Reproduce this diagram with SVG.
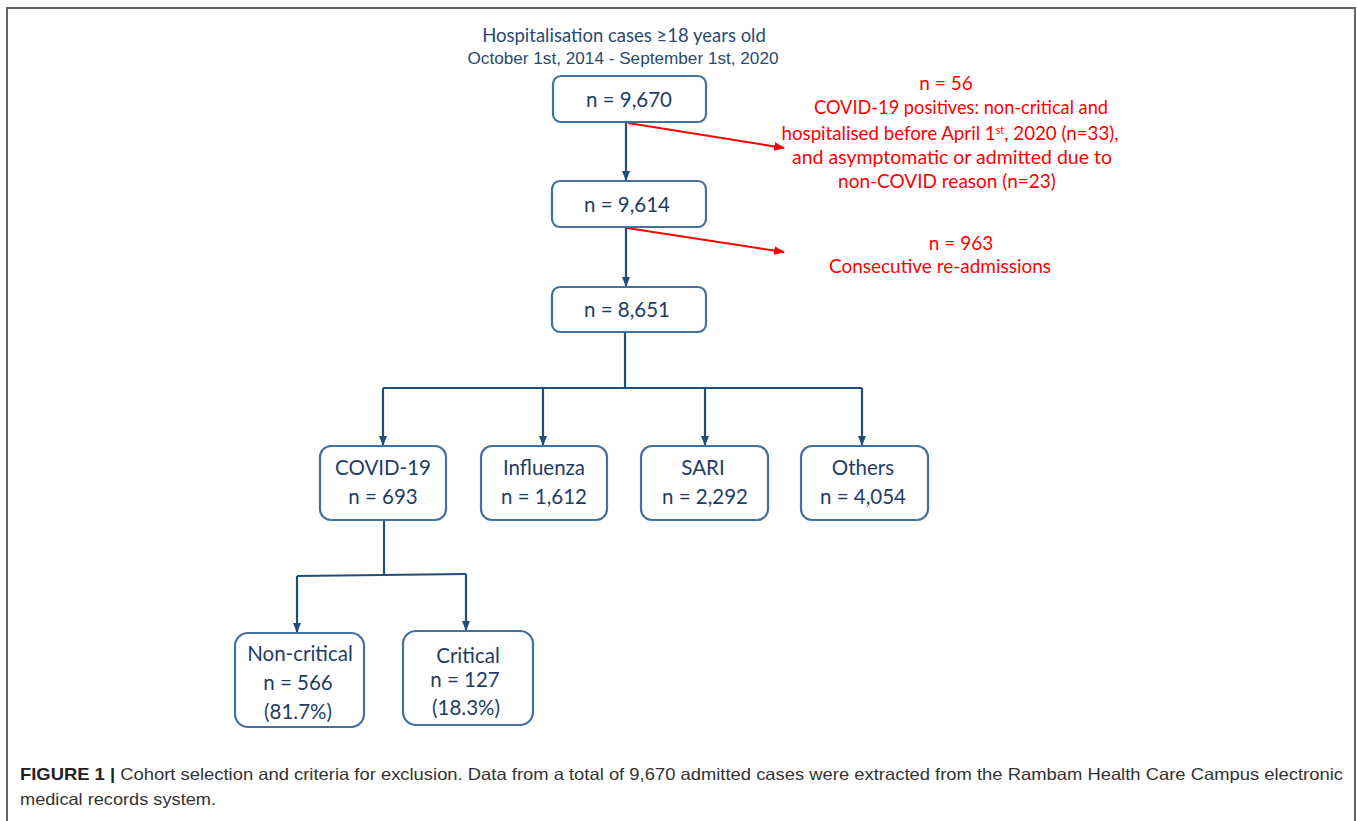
<svg xmlns="http://www.w3.org/2000/svg" width="1357" height="821" viewBox="0 0 1357 821">
<defs>
<marker id="ab" viewBox="0 0 10 10" refX="9" refY="5" markerWidth="10" markerHeight="10" orient="auto" markerUnits="userSpaceOnUse">
<path d="M0,1 L10,5 L0,9 z" fill="#1f4e79"/>
</marker>
<marker id="ar" viewBox="0 0 10 10" refX="9" refY="5" markerWidth="11" markerHeight="11" orient="auto" markerUnits="userSpaceOnUse">
<path d="M0,1 L10,5 L0,9 z" fill="#ff0000"/>
</marker>
<style>
.box{fill:#ffffff;stroke:#41719c;stroke-width:2.2}
.t{font-family:Lato,"Open Sans","Liberation Sans",sans-serif;font-size:20.5px;fill:#1f3d63;text-anchor:middle}
.r{font-family:Lato,"Open Sans","Liberation Sans",sans-serif;font-size:19px;fill:#ff0000;text-anchor:middle}
.h{font-family:Lato,"Liberation Sans",sans-serif;font-size:18.5px;fill:#2a4a70;text-anchor:middle}
.cap{font-family:"Liberation Sans",Arial,sans-serif;font-size:16.5px;fill:#333333}
.bl{fill:none;stroke:#1f4e79;stroke-width:2.2}
.rl{fill:none;stroke:#ff0000;stroke-width:2}
</style>
</defs>
<rect width="1357" height="821" fill="#ffffff"/>
<path d="M7,821 V8 H1355 V821" fill="none" stroke="#666666" stroke-width="2"/>

<g id="title">
<text class="h" x="624" y="42">Hospitalisation cases ≥18 years old</text>
<text class="h" x="623" y="64" style="font-family:'Liberation Sans',Arial,sans-serif;font-size:16px" textLength="311" lengthAdjust="spacingAndGlyphs">October 1st, 2014 - September 1st, 2020</text>
</g>

<g id="connectors">
<path class="bl" d="M626,122 V180" marker-end="url(#ab)"/>
<path class="bl" d="M626,227 V286" marker-end="url(#ab)"/>
<path class="bl" d="M625,332 V388 M383,388 H862"/>
<path class="bl" d="M383,388 V445" marker-end="url(#ab)"/>
<path class="bl" d="M543,388 V445" marker-end="url(#ab)"/>
<path class="bl" d="M705,388 V445" marker-end="url(#ab)"/>
<path class="bl" d="M862,388 V445" marker-end="url(#ab)"/>
<path class="bl" d="M384,520 V575 M297,576 L466,574"/>
<path class="bl" d="M297,576 V632" marker-end="url(#ab)"/>
<path class="bl" d="M466,574 V630" marker-end="url(#ab)"/>
<path class="rl" d="M628,123 L784,148" marker-end="url(#ar)"/>
<path class="rl" d="M627,228 L784,252" marker-end="url(#ar)"/>
</g>

<g id="n1">
<rect class="box" x="553" y="76" width="153" height="46" rx="8"/>
<text class="t" x="629" y="107">n = 9,670</text>
</g>
<g id="n2">
<rect class="box" x="552" y="181" width="154" height="46" rx="8"/>
<text class="t" x="627" y="212">n = 9,614</text>
</g>
<g id="n3">
<rect class="box" x="552" y="287" width="154" height="45" rx="8"/>
<text class="t" x="627" y="317">n = 8,651</text>
</g>

<g id="excl1">
<text class="r" x="946" y="90">n = 56</text>
<text class="r" x="961" y="114" textLength="294" lengthAdjust="spacingAndGlyphs">COVID-19 positives: non-critical and</text>
<text class="r" x="950" y="140" textLength="337" lengthAdjust="spacingAndGlyphs">hospitalised before April 1<tspan style="font-size:11px" dy="-6">st</tspan><tspan dy="6">, 2020 (n=33),</tspan></text>
<text class="r" x="952" y="164" textLength="320" lengthAdjust="spacingAndGlyphs">and asymptomatic or admitted due to</text>
<text class="r" x="947" y="188">non-COVID reason (n=23)</text>
</g>
<g id="excl2">
<text class="r" x="961" y="250">n = 963</text>
<text class="r" x="940" y="273" textLength="222" lengthAdjust="spacingAndGlyphs">Consecutive re-admissions</text>
</g>

<g id="covid">
<rect class="box" x="320" y="446" width="126" height="74" rx="11"/>
<text class="t" x="383" y="475">COVID-19</text>
<text class="t" x="383" y="504">n = 693</text>
</g>
<g id="influenza">
<rect class="box" x="481" y="446" width="126" height="74" rx="11"/>
<text class="t" x="544" y="475">Influenza</text>
<text class="t" x="544" y="504">n = 1,612</text>
</g>
<g id="sari">
<rect class="box" x="641" y="446" width="127" height="74" rx="11"/>
<text class="t" x="703" y="475">SARI</text>
<text class="t" x="705" y="504">n = 2,292</text>
</g>
<g id="others">
<rect class="box" x="801" y="446" width="127" height="74" rx="11"/>
<text class="t" x="863" y="475">Others</text>
<text class="t" x="863" y="504">n = 4,054</text>
</g>

<g id="noncritical">
<rect class="box" x="235" y="633" width="129" height="94" rx="13"/>
<text class="t" x="300" y="661">Non-critical</text>
<text class="t" x="298" y="690">n = 566</text>
<text class="t" x="298" y="719">(81.7%)</text>
</g>
<g id="critical">
<rect class="box" x="403" y="631" width="130" height="94" rx="13"/>
<text class="t" x="468" y="663">Critical</text>
<text class="t" x="465" y="687">n = 127</text>
<text class="t" x="466" y="715">(18.3%)</text>
</g>

<g id="caption">
<text class="cap" x="20" y="780" textLength="1323" lengthAdjust="spacingAndGlyphs"><tspan font-weight="bold" fill="#222222">FIGURE 1 |</tspan> Cohort selection and criteria for exclusion. Data from a total of 9,670 admitted cases were extracted from the Rambam Health Care Campus electronic</text>
<text class="cap" x="20" y="805" textLength="196" lengthAdjust="spacingAndGlyphs">medical records system.</text>
</g>
</svg>
